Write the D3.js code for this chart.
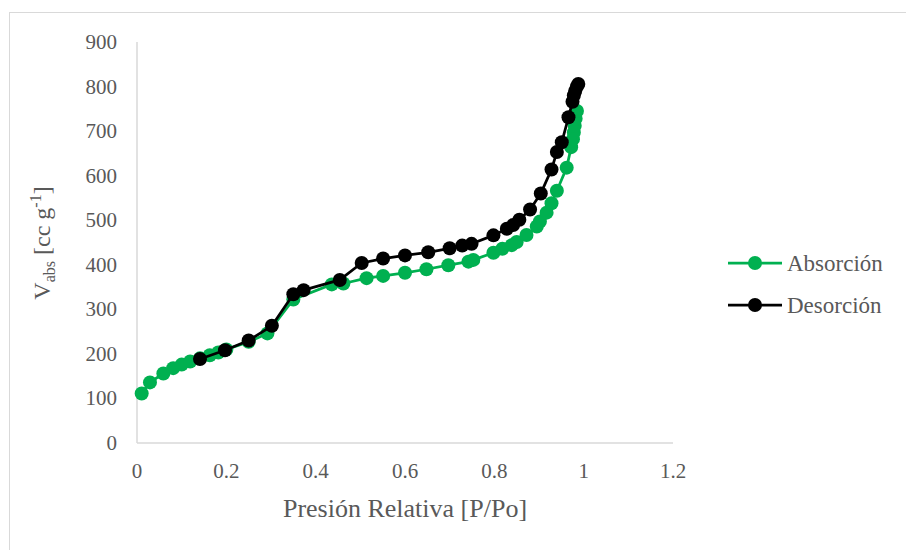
<!DOCTYPE html>
<html><head><meta charset="utf-8">
<script src="https://cdn.jsdelivr.net/npm/d3@7"></script>
<style>body{margin:0;background:#fff}svg{display:block}</style>
</head><body>
<svg id="c" width="906" height="550"></svg>
<script>
const absX=[0.0105,0.029,0.059,0.081,0.10,0.119,0.141,0.163,0.182,0.20,0.25,0.292,0.35,0.436,0.462,0.514,0.551,0.60,0.648,0.697,0.742,0.753,0.798,0.818,0.839,0.85,0.872,0.895,0.902,0.917,0.928,0.94,0.962,0.972,0.976,0.978,0.98,0.982,0.985];
const absY=[111,136,156,168,176,183,190,197,203,210,227,246,322,356,358,370,375,382,390,399,407,411,427,436,444,451,467,486,497,517,538,566,618,664,682,697,712,728,745];
const desX=[0.988,0.985,0.981,0.978,0.975,0.966,0.951,0.94,0.928,0.904,0.88,0.856,0.842,0.828,0.798,0.749,0.728,0.70,0.652,0.60,0.551,0.503,0.454,0.373,0.35,0.302,0.25,0.197,0.141];
const desY=[806,800,790,780,766,731,675,653,614,560,524,501,489,481,466,447,443,437,428,421,414,404,366,343,334,263,230,208,188.5];
const xTicks=[0,0.2,0.4,0.6,0.8,1,1.2];
const yTicks=[0,100,200,300,400,500,600,700,800,900];
const seriesNames=["Absorción","Desorción"];
const seriesColors=["#00B050","#000000"];

const svg=d3.select("#c");
const font="'Liberation Serif','Times New Roman',serif";
const txt="#595959";
svg.append("rect").attr("x",9.5).attr("y",12.5).attr("width",1000).attr("height",1000).attr("fill","none").attr("stroke","#D9D9D9");

const x=d3.scaleLinear().domain([0,1.2]).range([137,673]);
const y=d3.scaleLinear().domain([0,900]).range([443,42]);

svg.append("line").attr("x1",x(0)).attr("x2",x(0)).attr("y1",y(900)).attr("y2",y(0)).attr("stroke","#D9D9D9").attr("stroke-width",1.5);
svg.append("line").attr("x1",x(0)).attr("x2",x(1.2)).attr("y1",y(0)).attr("y2",y(0)).attr("stroke","#D9D9D9").attr("stroke-width",1.5);

svg.selectAll(".xt").data(xTicks).enter().append("text")
 .attr("x",d=>x(d)).attr("y",478).attr("text-anchor","middle")
 .attr("font-family",font).attr("font-size",21).attr("fill",txt).text(d=>d3.format("")(d));
svg.selectAll(".yt").data(yTicks).enter().append("text")
 .attr("x",117).attr("y",d=>y(d)+7).attr("text-anchor","end")
 .attr("font-family",font).attr("font-size",21).attr("fill",txt).text(d=>d);

svg.append("text").attr("x",(x(0)+x(1.2))/2).attr("y",517).attr("text-anchor","middle")
 .attr("font-family",font).attr("font-size",26).attr("fill",txt).text("Presión Relativa [P/Po]");

const yt=svg.append("text").attr("transform","translate(50,243) rotate(-90)").attr("text-anchor","middle")
 .attr("font-family",font).attr("font-size",24).attr("fill",txt);
yt.append("tspan").text("V");
yt.append("tspan").attr("font-size",16).attr("dy",5).text("abs");
yt.append("tspan").attr("dy",-5).text(" [cc g");
yt.append("tspan").attr("font-size",16).attr("dy",-9).text("-1");
yt.append("tspan").attr("dy",9).text("]");

const line=d3.line().x(d=>x(d[0])).y(d=>y(d[1]));
const series=[d3.zip(absX,absY),d3.zip(desX,desY)];
series.forEach((s,i)=>{
  const g=svg.append("g");
  g.append("path").attr("d",line(s)).attr("fill","none").attr("stroke",seriesColors[i]).attr("stroke-width",2.75).attr("stroke-linejoin","round");
  g.selectAll("circle").data(s).enter().append("circle").attr("cx",d=>x(d[0])).attr("cy",d=>y(d[1])).attr("r",7).attr("fill",seriesColors[i]);
});

const lg=svg.append("g");
seriesNames.forEach((n,i)=>{
  const yy=263+i*42;
  lg.append("line").attr("x1",728).attr("x2",782).attr("y1",yy).attr("y2",yy).attr("stroke",seriesColors[i]).attr("stroke-width",2.75);
  lg.append("circle").attr("cx",755).attr("cy",yy).attr("r",7).attr("fill",seriesColors[i]);
  lg.append("text").attr("x",787).attr("y",yy+8).attr("font-family",font).attr("font-size",23).attr("fill",txt).text(n);
});
</script>
</body></html>
